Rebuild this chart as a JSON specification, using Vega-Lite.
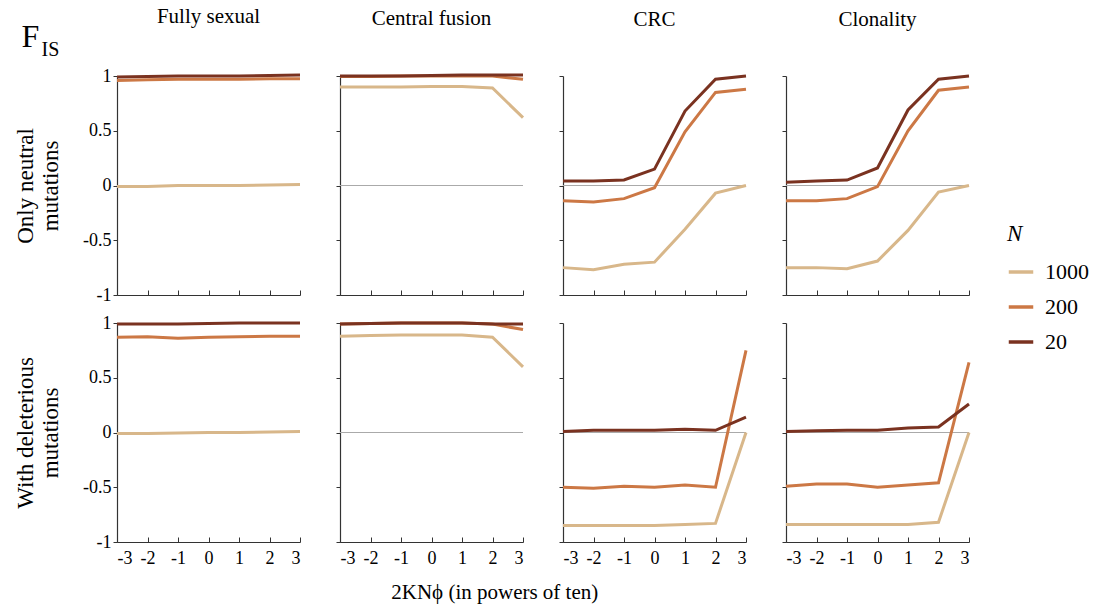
{
"$schema":"https://vega.github.io/schema/vega-lite/v6.json",
"padding":{"left":14,"top":6,"right":5,"bottom":5},
"background":"white",
"datasets":{"d":[
{"r":"n","c":"FS","N":"1000","x":-3,"y":-0.01},{"r":"n","c":"FS","N":"1000","x":-2,"y":-0.01},{"r":"n","c":"FS","N":"1000","x":-1,"y":0},{"r":"n","c":"FS","N":"1000","x":0,"y":0},{"r":"n","c":"FS","N":"1000","x":1,"y":0},{"r":"n","c":"FS","N":"1000","x":2,"y":0.005},{"r":"n","c":"FS","N":"1000","x":3,"y":0.01},
{"r":"n","c":"FS","N":"200","x":-3,"y":0.96},{"r":"n","c":"FS","N":"200","x":-2,"y":0.965},{"r":"n","c":"FS","N":"200","x":-1,"y":0.97},{"r":"n","c":"FS","N":"200","x":0,"y":0.97},{"r":"n","c":"FS","N":"200","x":1,"y":0.97},{"r":"n","c":"FS","N":"200","x":2,"y":0.975},{"r":"n","c":"FS","N":"200","x":3,"y":0.975},
{"r":"n","c":"FS","N":"20","x":-3,"y":0.99},{"r":"n","c":"FS","N":"20","x":-2,"y":0.995},{"r":"n","c":"FS","N":"20","x":-1,"y":1.0},{"r":"n","c":"FS","N":"20","x":0,"y":1.0},{"r":"n","c":"FS","N":"20","x":1,"y":1.0},{"r":"n","c":"FS","N":"20","x":2,"y":1.005},{"r":"n","c":"FS","N":"20","x":3,"y":1.01},
{"r":"n","c":"CF","N":"1000","x":-3,"y":0.9},{"r":"n","c":"CF","N":"1000","x":-2,"y":0.9},{"r":"n","c":"CF","N":"1000","x":-1,"y":0.9},{"r":"n","c":"CF","N":"1000","x":0,"y":0.905},{"r":"n","c":"CF","N":"1000","x":1,"y":0.905},{"r":"n","c":"CF","N":"1000","x":2,"y":0.89},{"r":"n","c":"CF","N":"1000","x":3,"y":0.62},
{"r":"n","c":"CF","N":"200","x":-3,"y":0.995},{"r":"n","c":"CF","N":"200","x":-2,"y":0.995},{"r":"n","c":"CF","N":"200","x":-1,"y":1.0},{"r":"n","c":"CF","N":"200","x":0,"y":1.0},{"r":"n","c":"CF","N":"200","x":1,"y":1.0},{"r":"n","c":"CF","N":"200","x":2,"y":1.0},{"r":"n","c":"CF","N":"200","x":3,"y":0.97},
{"r":"n","c":"CF","N":"20","x":-3,"y":1.0},{"r":"n","c":"CF","N":"20","x":-2,"y":1.0},{"r":"n","c":"CF","N":"20","x":-1,"y":1.0},{"r":"n","c":"CF","N":"20","x":0,"y":1.005},{"r":"n","c":"CF","N":"20","x":1,"y":1.01},{"r":"n","c":"CF","N":"20","x":2,"y":1.01},{"r":"n","c":"CF","N":"20","x":3,"y":1.01},
{"r":"n","c":"CRC","N":"1000","x":-3,"y":-0.75},{"r":"n","c":"CRC","N":"1000","x":-2,"y":-0.77},{"r":"n","c":"CRC","N":"1000","x":-1,"y":-0.72},{"r":"n","c":"CRC","N":"1000","x":0,"y":-0.7},{"r":"n","c":"CRC","N":"1000","x":1,"y":-0.4},{"r":"n","c":"CRC","N":"1000","x":2,"y":-0.07},{"r":"n","c":"CRC","N":"1000","x":3,"y":0.0},
{"r":"n","c":"CRC","N":"200","x":-3,"y":-0.14},{"r":"n","c":"CRC","N":"200","x":-2,"y":-0.15},{"r":"n","c":"CRC","N":"200","x":-1,"y":-0.12},{"r":"n","c":"CRC","N":"200","x":0,"y":-0.02},{"r":"n","c":"CRC","N":"200","x":1,"y":0.49},{"r":"n","c":"CRC","N":"200","x":2,"y":0.85},{"r":"n","c":"CRC","N":"200","x":3,"y":0.88},
{"r":"n","c":"CRC","N":"20","x":-3,"y":0.04},{"r":"n","c":"CRC","N":"20","x":-2,"y":0.04},{"r":"n","c":"CRC","N":"20","x":-1,"y":0.05},{"r":"n","c":"CRC","N":"20","x":0,"y":0.15},{"r":"n","c":"CRC","N":"20","x":1,"y":0.68},{"r":"n","c":"CRC","N":"20","x":2,"y":0.97},{"r":"n","c":"CRC","N":"20","x":3,"y":1.0},
{"r":"n","c":"CL","N":"1000","x":-3,"y":-0.75},{"r":"n","c":"CL","N":"1000","x":-2,"y":-0.75},{"r":"n","c":"CL","N":"1000","x":-1,"y":-0.76},{"r":"n","c":"CL","N":"1000","x":0,"y":-0.69},{"r":"n","c":"CL","N":"1000","x":1,"y":-0.41},{"r":"n","c":"CL","N":"1000","x":2,"y":-0.06},{"r":"n","c":"CL","N":"1000","x":3,"y":0.0},
{"r":"n","c":"CL","N":"200","x":-3,"y":-0.14},{"r":"n","c":"CL","N":"200","x":-2,"y":-0.14},{"r":"n","c":"CL","N":"200","x":-1,"y":-0.12},{"r":"n","c":"CL","N":"200","x":0,"y":-0.01},{"r":"n","c":"CL","N":"200","x":1,"y":0.5},{"r":"n","c":"CL","N":"200","x":2,"y":0.87},{"r":"n","c":"CL","N":"200","x":3,"y":0.9},
{"r":"n","c":"CL","N":"20","x":-3,"y":0.03},{"r":"n","c":"CL","N":"20","x":-2,"y":0.04},{"r":"n","c":"CL","N":"20","x":-1,"y":0.05},{"r":"n","c":"CL","N":"20","x":0,"y":0.16},{"r":"n","c":"CL","N":"20","x":1,"y":0.69},{"r":"n","c":"CL","N":"20","x":2,"y":0.97},{"r":"n","c":"CL","N":"20","x":3,"y":1.0},
{"r":"d","c":"FS","N":"1000","x":-3,"y":-0.01},{"r":"d","c":"FS","N":"1000","x":-2,"y":-0.01},{"r":"d","c":"FS","N":"1000","x":-1,"y":-0.005},{"r":"d","c":"FS","N":"1000","x":0,"y":0},{"r":"d","c":"FS","N":"1000","x":1,"y":0},{"r":"d","c":"FS","N":"1000","x":2,"y":0.005},{"r":"d","c":"FS","N":"1000","x":3,"y":0.01},
{"r":"d","c":"FS","N":"200","x":-3,"y":0.87},{"r":"d","c":"FS","N":"200","x":-2,"y":0.875},{"r":"d","c":"FS","N":"200","x":-1,"y":0.86},{"r":"d","c":"FS","N":"200","x":0,"y":0.87},{"r":"d","c":"FS","N":"200","x":1,"y":0.875},{"r":"d","c":"FS","N":"200","x":2,"y":0.88},{"r":"d","c":"FS","N":"200","x":3,"y":0.88},
{"r":"d","c":"FS","N":"20","x":-3,"y":0.99},{"r":"d","c":"FS","N":"20","x":-2,"y":0.99},{"r":"d","c":"FS","N":"20","x":-1,"y":0.99},{"r":"d","c":"FS","N":"20","x":0,"y":0.995},{"r":"d","c":"FS","N":"20","x":1,"y":1.0},{"r":"d","c":"FS","N":"20","x":2,"y":1.0},{"r":"d","c":"FS","N":"20","x":3,"y":1.0},
{"r":"d","c":"CF","N":"1000","x":-3,"y":0.88},{"r":"d","c":"CF","N":"1000","x":-2,"y":0.885},{"r":"d","c":"CF","N":"1000","x":-1,"y":0.89},{"r":"d","c":"CF","N":"1000","x":0,"y":0.89},{"r":"d","c":"CF","N":"1000","x":1,"y":0.89},{"r":"d","c":"CF","N":"1000","x":2,"y":0.87},{"r":"d","c":"CF","N":"1000","x":3,"y":0.6},
{"r":"d","c":"CF","N":"200","x":-3,"y":0.99},{"r":"d","c":"CF","N":"200","x":-2,"y":0.995},{"r":"d","c":"CF","N":"200","x":-1,"y":1.0},{"r":"d","c":"CF","N":"200","x":0,"y":1.0},{"r":"d","c":"CF","N":"200","x":1,"y":1.0},{"r":"d","c":"CF","N":"200","x":2,"y":0.99},{"r":"d","c":"CF","N":"200","x":3,"y":0.94},
{"r":"d","c":"CF","N":"20","x":-3,"y":0.99},{"r":"d","c":"CF","N":"20","x":-2,"y":0.995},{"r":"d","c":"CF","N":"20","x":-1,"y":1.0},{"r":"d","c":"CF","N":"20","x":0,"y":1.0},{"r":"d","c":"CF","N":"20","x":1,"y":1.0},{"r":"d","c":"CF","N":"20","x":2,"y":0.99},{"r":"d","c":"CF","N":"20","x":3,"y":0.99},
{"r":"d","c":"CRC","N":"1000","x":-3,"y":-0.85},{"r":"d","c":"CRC","N":"1000","x":-2,"y":-0.85},{"r":"d","c":"CRC","N":"1000","x":-1,"y":-0.85},{"r":"d","c":"CRC","N":"1000","x":0,"y":-0.85},{"r":"d","c":"CRC","N":"1000","x":1,"y":-0.84},{"r":"d","c":"CRC","N":"1000","x":2,"y":-0.83},{"r":"d","c":"CRC","N":"1000","x":3,"y":0.0},
{"r":"d","c":"CRC","N":"200","x":-3,"y":-0.5},{"r":"d","c":"CRC","N":"200","x":-2,"y":-0.51},{"r":"d","c":"CRC","N":"200","x":-1,"y":-0.49},{"r":"d","c":"CRC","N":"200","x":0,"y":-0.5},{"r":"d","c":"CRC","N":"200","x":1,"y":-0.48},{"r":"d","c":"CRC","N":"200","x":2,"y":-0.5},{"r":"d","c":"CRC","N":"200","x":3,"y":0.75},
{"r":"d","c":"CRC","N":"20","x":-3,"y":0.01},{"r":"d","c":"CRC","N":"20","x":-2,"y":0.02},{"r":"d","c":"CRC","N":"20","x":-1,"y":0.02},{"r":"d","c":"CRC","N":"20","x":0,"y":0.02},{"r":"d","c":"CRC","N":"20","x":1,"y":0.03},{"r":"d","c":"CRC","N":"20","x":2,"y":0.02},{"r":"d","c":"CRC","N":"20","x":3,"y":0.14},
{"r":"d","c":"CL","N":"1000","x":-3,"y":-0.84},{"r":"d","c":"CL","N":"1000","x":-2,"y":-0.84},{"r":"d","c":"CL","N":"1000","x":-1,"y":-0.84},{"r":"d","c":"CL","N":"1000","x":0,"y":-0.84},{"r":"d","c":"CL","N":"1000","x":1,"y":-0.84},{"r":"d","c":"CL","N":"1000","x":2,"y":-0.82},{"r":"d","c":"CL","N":"1000","x":3,"y":0.0},
{"r":"d","c":"CL","N":"200","x":-3,"y":-0.49},{"r":"d","c":"CL","N":"200","x":-2,"y":-0.47},{"r":"d","c":"CL","N":"200","x":-1,"y":-0.47},{"r":"d","c":"CL","N":"200","x":0,"y":-0.5},{"r":"d","c":"CL","N":"200","x":1,"y":-0.48},{"r":"d","c":"CL","N":"200","x":2,"y":-0.46},{"r":"d","c":"CL","N":"200","x":3,"y":0.64},
{"r":"d","c":"CL","N":"20","x":-3,"y":0.01},{"r":"d","c":"CL","N":"20","x":-2,"y":0.015},{"r":"d","c":"CL","N":"20","x":-1,"y":0.02},{"r":"d","c":"CL","N":"20","x":0,"y":0.02},{"r":"d","c":"CL","N":"20","x":1,"y":0.04},{"r":"d","c":"CL","N":"20","x":2,"y":0.05},{"r":"d","c":"CL","N":"20","x":3,"y":0.26}
]},
"title":{"text":"F","subtitle":"\u200b\u00a0\u00a0\u00a0\u00a0IS","anchor":"start","frame":"bounds","fontSize":32,"subtitleFontSize":20,"subtitlePadding":-14,"offset":-55,"font":"Liberation Serif","subtitleFont":"Liberation Serif","fontWeight":"normal","color":"black","subtitleColor":"black","dx":7},
"vconcat":[
{"hconcat":[
{"width":183,"height":219,"title":"Fully sexual","layer":[
{"data":{"values":[{}]},"mark":{"type":"rule","color":"#aaaaaa","strokeWidth":1},"encoding":{"y":{"datum":0}}},
{"data":{"name":"d"},"transform":[{"filter":"datum.r=='n'&&datum.c=='FS'"}],"mark":{"type":"line","strokeWidth":3},"encoding":{
"x":{"field":"x","type":"quantitative","scale":{"domain":[-3,3],"nice":false,"zero":false},"axis":{"values":[-3,-2,-1,0,1,2,3],"labels":false,"title":null}},
"y":{"field":"y","type":"quantitative","scale":{"domain":[-1,1],"nice":false,"zero":false},"axis":{"values":[-1,-0.5,0,0.5,1],"labelExpr":"''+datum.value","title":["Only neutral","mutations"]}},
"color":{"field":"N","type":"nominal","title":"N","scale":{"domain":["1000","200","20"],"range":["#d8b78a","#cc7845","#7a3220"]}}}}]},
{"width":183,"height":219,"title":"Central fusion","layer":[
{"data":{"values":[{}]},"mark":{"type":"rule","color":"#aaaaaa","strokeWidth":1},"encoding":{"y":{"datum":0}}},
{"data":{"name":"d"},"transform":[{"filter":"datum.r=='n'&&datum.c=='CF'"}],"mark":{"type":"line","strokeWidth":3},"encoding":{
"x":{"field":"x","type":"quantitative","scale":{"domain":[-3,3],"nice":false,"zero":false},"axis":{"values":[-3,-2,-1,0,1,2,3],"labels":false,"title":null}},
"y":{"field":"y","type":"quantitative","scale":{"domain":[-1,1],"nice":false,"zero":false},"axis":{"values":[-1,-0.5,0,0.5,1],"labels":false,"title":null}},
"color":{"field":"N","type":"nominal","title":"N","scale":{"domain":["1000","200","20"],"range":["#d8b78a","#cc7845","#7a3220"]}}}}]},
{"width":183,"height":219,"title":"CRC","layer":[
{"data":{"values":[{}]},"mark":{"type":"rule","color":"#aaaaaa","strokeWidth":1},"encoding":{"y":{"datum":0}}},
{"data":{"name":"d"},"transform":[{"filter":"datum.r=='n'&&datum.c=='CRC'"}],"mark":{"type":"line","strokeWidth":3},"encoding":{
"x":{"field":"x","type":"quantitative","scale":{"domain":[-3,3],"nice":false,"zero":false},"axis":{"values":[-3,-2,-1,0,1,2,3],"labels":false,"title":null}},
"y":{"field":"y","type":"quantitative","scale":{"domain":[-1,1],"nice":false,"zero":false},"axis":{"values":[-1,-0.5,0,0.5,1],"labels":false,"title":null}},
"color":{"field":"N","type":"nominal","title":"N","scale":{"domain":["1000","200","20"],"range":["#d8b78a","#cc7845","#7a3220"]}}}}]},
{"width":183,"height":219,"title":"Clonality","layer":[
{"data":{"values":[{}]},"mark":{"type":"rule","color":"#aaaaaa","strokeWidth":1},"encoding":{"y":{"datum":0}}},
{"data":{"name":"d"},"transform":[{"filter":"datum.r=='n'&&datum.c=='CL'"}],"mark":{"type":"line","strokeWidth":3},"encoding":{
"x":{"field":"x","type":"quantitative","scale":{"domain":[-3,3],"nice":false,"zero":false},"axis":{"values":[-3,-2,-1,0,1,2,3],"labels":false,"title":null}},
"y":{"field":"y","type":"quantitative","scale":{"domain":[-1,1],"nice":false,"zero":false},"axis":{"values":[-1,-0.5,0,0.5,1],"labels":false,"title":null}},
"color":{"field":"N","type":"nominal","title":"N","scale":{"domain":["1000","200","20"],"range":["#d8b78a","#cc7845","#7a3220"]}}}}]}
]},
{"title":{"text":"2KN\u03d5 (in powers of ten)","orient":"bottom","anchor":"middle","fontSize":21,"fontWeight":"normal","font":"Liberation Serif","color":"black","offset":15},
"hconcat":[
{"width":183,"height":219,"layer":[
{"data":{"values":[{}]},"mark":{"type":"rule","color":"#aaaaaa","strokeWidth":1},"encoding":{"y":{"datum":0}}},
{"data":{"name":"d"},"transform":[{"filter":"datum.r=='d'&&datum.c=='FS'"}],"mark":{"type":"line","strokeWidth":3},"encoding":{
"x":{"field":"x","type":"quantitative","scale":{"domain":[-3,3],"nice":false,"zero":false},"axis":{"values":[-3,-2,-1,0,1,2,3],"labelExpr":"''+datum.value","title":null}},
"y":{"field":"y","type":"quantitative","scale":{"domain":[-1,1],"nice":false,"zero":false},"axis":{"values":[-1,-0.5,0,0.5,1],"labelExpr":"''+datum.value","title":["With deleterious","mutations"]}},
"color":{"field":"N","type":"nominal","title":"N","scale":{"domain":["1000","200","20"],"range":["#d8b78a","#cc7845","#7a3220"]}}}}]},
{"width":183,"height":219,"layer":[
{"data":{"values":[{}]},"mark":{"type":"rule","color":"#aaaaaa","strokeWidth":1},"encoding":{"y":{"datum":0}}},
{"data":{"name":"d"},"transform":[{"filter":"datum.r=='d'&&datum.c=='CF'"}],"mark":{"type":"line","strokeWidth":3},"encoding":{
"x":{"field":"x","type":"quantitative","scale":{"domain":[-3,3],"nice":false,"zero":false},"axis":{"values":[-3,-2,-1,0,1,2,3],"labelExpr":"''+datum.value","title":null}},
"y":{"field":"y","type":"quantitative","scale":{"domain":[-1,1],"nice":false,"zero":false},"axis":{"values":[-1,-0.5,0,0.5,1],"labels":false,"title":null}},
"color":{"field":"N","type":"nominal","title":"N","scale":{"domain":["1000","200","20"],"range":["#d8b78a","#cc7845","#7a3220"]}}}}]},
{"width":183,"height":219,"layer":[
{"data":{"values":[{}]},"mark":{"type":"rule","color":"#aaaaaa","strokeWidth":1},"encoding":{"y":{"datum":0}}},
{"data":{"name":"d"},"transform":[{"filter":"datum.r=='d'&&datum.c=='CRC'"}],"mark":{"type":"line","strokeWidth":3},"encoding":{
"x":{"field":"x","type":"quantitative","scale":{"domain":[-3,3],"nice":false,"zero":false},"axis":{"values":[-3,-2,-1,0,1,2,3],"labelExpr":"''+datum.value","title":null}},
"y":{"field":"y","type":"quantitative","scale":{"domain":[-1,1],"nice":false,"zero":false},"axis":{"values":[-1,-0.5,0,0.5,1],"labels":false,"title":null}},
"color":{"field":"N","type":"nominal","title":"N","scale":{"domain":["1000","200","20"],"range":["#d8b78a","#cc7845","#7a3220"]}}}}]},
{"width":183,"height":219,"layer":[
{"data":{"values":[{}]},"mark":{"type":"rule","color":"#aaaaaa","strokeWidth":1},"encoding":{"y":{"datum":0}}},
{"data":{"name":"d"},"transform":[{"filter":"datum.r=='d'&&datum.c=='CL'"}],"mark":{"type":"line","strokeWidth":3},"encoding":{
"x":{"field":"x","type":"quantitative","scale":{"domain":[-3,3],"nice":false,"zero":false},"axis":{"values":[-3,-2,-1,0,1,2,3],"labelExpr":"''+datum.value","title":null}},
"y":{"field":"y","type":"quantitative","scale":{"domain":[-1,1],"nice":false,"zero":false},"axis":{"values":[-1,-0.5,0,0.5,1],"labels":false,"title":null}},
"color":{"field":"N","type":"nominal","title":"N","scale":{"domain":["1000","200","20"],"range":["#d8b78a","#cc7845","#7a3220"]}}}}]}
]}
],
"spacing":10,
"config":{
"concat":{"spacing":28},
"view":{"stroke":null},
"font":"Liberation Serif",
"title":{"fontSize":21,"fontWeight":"normal","font":"Liberation Serif","color":"black","offset":40},
"axis":{"grid":false,"domainColor":"#333333","tickColor":"#333333","labelFont":"Liberation Serif","labelFontSize":18,"labelColor":"black","titleFont":"Liberation Serif","titleFontSize":23,"titleFontWeight":"normal","titleColor":"black","titleLineHeight":25,"titlePadding":20,"tickSize":4,"domainWidth":1.2},
"axisX":{"tickSize":-5,"labelPadding":12},
"legend":{"orient":"none","legendX":890,"legendY":147,"titleFontStyle":"italic","titleFontSize":23,"titleFont":"Liberation Serif","titleFontWeight":"normal","titleColor":"black","labelFont":"Liberation Serif","labelFontSize":22,"labelColor":"black","symbolType":"stroke","symbolStrokeWidth":3.5,"symbolSize":600,"rowPadding":10,"titlePadding":12,"labelOffset":10}
}
}
